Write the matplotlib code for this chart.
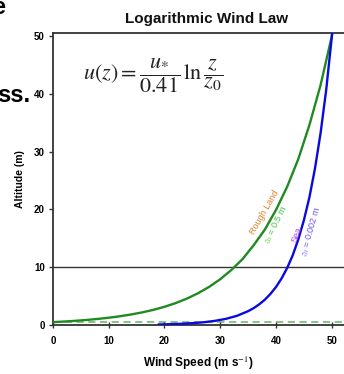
import matplotlib
matplotlib.use("Agg")
import matplotlib.pyplot as plt

plt.rcParams['font.family'] = ['Liberation Sans', 'DejaVu Sans']
plt.rcParams['mathtext.fontset'] = 'stix'

# Rough land (z0 = 0.5 m): wind speed (m/s) and altitude (m)
speed_land = [0, 2, 4, 6, 8, 10, 12, 14, 16, 18, 20, 22, 24, 26, 28, 30, 32, 34,
              36, 38, 40, 42, 44, 46, 48, 50, 50.4]
alt_land = [0.5, 0.6, 0.72, 0.87, 1.05, 1.26, 1.51, 1.82, 2.18, 2.62, 3.15, 3.79,
            4.56, 5.48, 6.59, 7.92, 9.52, 11.4, 13.8, 16.5, 19.9, 23.9, 28.7,
            34.6, 41.5, 49.9, 52.0]

# Sea (z0 = 0.002 m)
speed_sea = [19, 21, 23, 25, 27, 29, 31, 33, 35, 36, 37, 38, 39, 40, 41, 42, 43,
             44, 45, 46, 47, 48, 49, 50, 50.3]
alt_sea = [0.09, 0.14, 0.21, 0.32, 0.47, 0.71, 1.06, 1.59, 2.39, 2.92, 3.58, 4.38,
           5.37, 6.57, 8.05, 9.85, 12.05, 14.8, 18.1, 22.1, 27.1, 33.2, 40.6,
           49.7, 52.8]

ref_altitude = 10
z0_land = 0.5

x_ticks = [0, 10, 20, 30, 40, 50]
y_ticks = [0, 10, 20, 30, 40, 50]

W, H = 344, 374
fig = plt.figure(figsize=(W / 100, H / 100), dpi=100)
ax = fig.add_axes([53 / W, 1 - 325 / H, 1 - 53 / W, (325 - 33) / H])

ax.axhline(ref_altitude, color='#333333', lw=1.0, zorder=1)
ax.axhline(z0_land, color='#7cc07c', lw=1.3, ls=(0, (4, 2.5)), zorder=1)
ax.plot(speed_land, alt_land, color='#1f8a1f', lw=1.7, zorder=3)
ax.plot(speed_sea, alt_sea, color='#0a0ae0', lw=1.7, zorder=3)

ax.set_xlim(0, 52.2)
ax.set_ylim(0, 50.5)
ax.set_xticks(x_ticks)
ax.set_yticks(y_ticks)
for lab in ax.get_xticklabels() + ax.get_yticklabels():
    lab.set_fontweight('bold')
ax.tick_params(axis='both', labelsize=7, length=3, width=1, color='#333333', pad=3)
ax.tick_params(axis='x', pad=6, direction='inout', length=4)
ax.spines['right'].set_visible(False)
for s in ['left', 'bottom', 'top']:
    ax.spines[s].set_linewidth(1.3)
    ax.spines[s].set_color('#333333')

ax.set_xlabel('Wind Speed (m s$^{-1}$)', fontsize=8.5, fontweight='bold', labelpad=6)
ax.set_ylabel('Altitude (m)', fontsize=7.5, fontweight='bold', labelpad=6)

ax.text(0.345, 0.855, r'$u(z)=\dfrac{u_{*}}{0.41}\,\ln\dfrac{z}{z_0}$',
        transform=ax.transAxes, fontsize=16, ha='center', va='center', color='#222222')

ax.text(37.9, 19.5, 'Rough Land', color='#d9822b', fontsize=6.5, rotation=60,
        ha='center', va='center')
ax.text(40.1, 17.3, r'$z_0$ = 0.5 m', color='#3ec43e', fontsize=6.5, rotation=63,
        ha='center', va='center')
ax.text(43.7, 15.7, 'Sea', color='#b040e0', fontsize=6.5, rotation=70,
        ha='center', va='center')
ax.text(46.4, 16.1, r'$z_0$ = 0.002 m', color='#6a55ee', fontsize=6.5, rotation=74,
        ha='center', va='center')

fig.text(207 / W, 1 - 23 / H, 'Logarithmic Wind Law', fontsize=11, fontweight='bold',
         ha='center', va='baseline', color='#111111')
fig.text(5 / W, 1 - 14 / H, 'e', fontsize=17, fontweight='bold', ha='right', va='baseline')
fig.text(30 / W, 1 - 102 / H, 'ss.', fontsize=17, fontweight='bold', ha='right', va='baseline')

fig.savefig('out.png', dpi=100)
